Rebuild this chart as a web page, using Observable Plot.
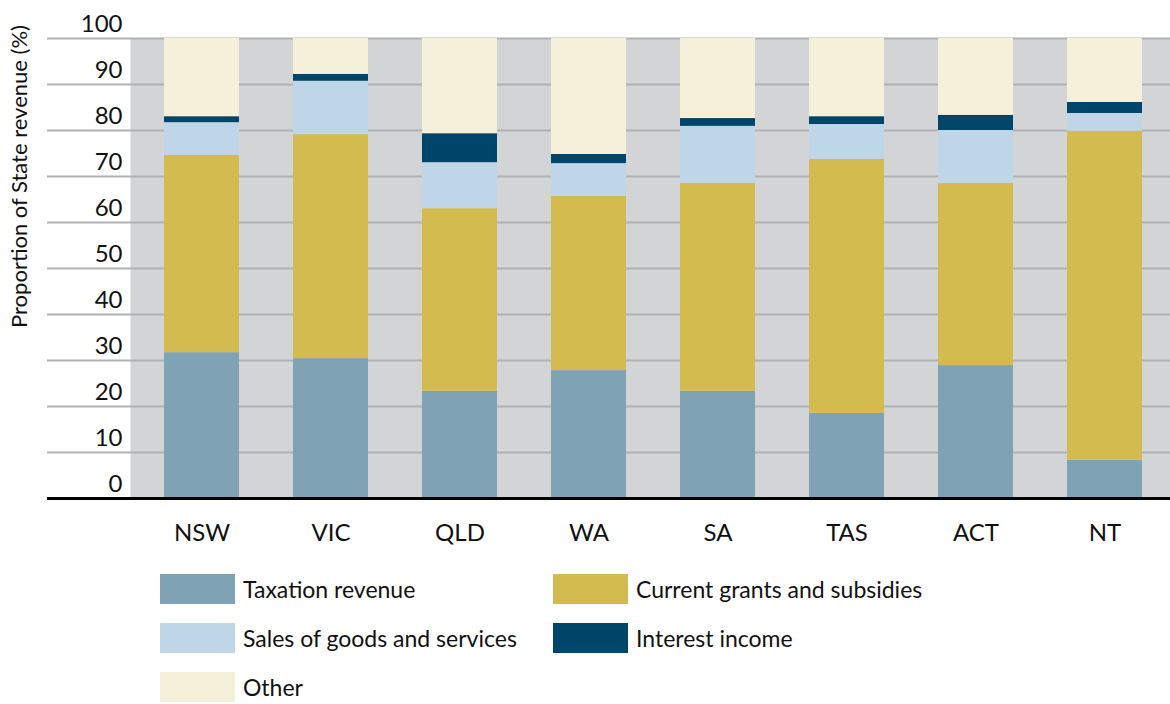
<!DOCTYPE html>
<html>
<head>
<meta charset="utf-8">
<script src="https://cdn.jsdelivr.net/npm/d3@7"></script>
<script src="https://cdn.jsdelivr.net/npm/@observablehq/plot@0.6"></script>
<style>
  body { margin: 0; background: #fff; font-family: Lato, "Open Sans", sans-serif; color: #111; overflow: hidden; }
  #chart svg { display: block; }
  .legend { display: grid; grid-template-columns: 393px 420px; margin-left: 160px; margin-top: 6px; row-gap: 19px; }
  .item { display: flex; align-items: center; font-size: 23px; line-height: 1; height: 30px; }
  .sw { width: 75px; height: 30px; margin-right: 8px; flex: none; }
</style>
</head>
<body>
<div id="chart"></div>
<div class="legend" id="legend"></div>
<script>
const states = ["NSW", "VIC", "QLD", "WA", "SA", "TAS", "ACT", "NT"];
const seriesNames = ["Taxation revenue", "Current grants and subsidies", "Sales of goods and services", "Interest income", "Other"];
const colors = ["#7fa3b5", "#d4bb50", "#bfd5e8", "#00456a", "#f5f0da"];
const taxation = [31.7, 30.4, 23.3, 27.8, 23.3, 18.5, 28.9, 8.3];
const grants   = [42.9, 48.7, 39.7, 37.9, 45.2, 55.2, 39.6, 71.5];
const sales    = [7.1, 11.6, 10.0, 7.1, 12.4, 7.6, 11.5, 3.9];
const interest = [1.3, 1.5, 6.3, 2.0, 1.7, 1.7, 3.3, 2.4];
const other    = [17.0, 7.8, 20.7, 25.2, 17.4, 17.0, 16.7, 13.9];
const yTicks = [0, 10, 20, 30, 40, 50, 60, 70, 80, 90, 100];
const yLabel = "Proportion of State revenue (%)";

const seriesValues = [taxation, grants, sales, interest, other];
const data = [];
seriesNames.forEach((s, i) => states.forEach((st, j) => data.push({state: st, series: s, value: seriesValues[i][j]})));

const gridColor = "#b1b1b3";
const plot = Plot.plot({
  width: 1170,
  height: 568,
  marginLeft: 130,
  marginRight: 0,
  marginTop: 38,
  marginBottom: 70,
  style: {fontFamily: "Lato, 'Open Sans', sans-serif", color: "#111", background: "transparent"},
  x: {domain: states, paddingInner: 0.415, paddingOuter: 0.22, align: 0.56, label: null},
  y: {domain: [0, 100], label: null},
  color: {domain: seriesNames, range: colors},
  marks: [
    Plot.frame({fill: "#d3d4d6", stroke: null}),
    Plot.gridY(yTicks, {stroke: gridColor, strokeOpacity: 1, strokeWidth: 2}),
    Plot.axisY({ticks: yTicks, tickSize: 83, tickFormat: () => "", stroke: gridColor, strokeWidth: 2, strokeOpacity: 1, label: null}),
    Plot.axisY({ticks: yTicks, tickSize: 0, tickPadding: 8, dy: -14, fontSize: 24, label: null}),
    Plot.barY(data, {x: "state", y: "value", fill: "series"}),
    Plot.ruleY([0], {stroke: "#000", strokeWidth: 3}),
    Plot.axisY({ticks: [0], tickSize: 83, tickFormat: () => "", stroke: "#000", strokeWidth: 3, label: null}),
    Plot.axisX({tickSize: 0, tickPadding: 25, fontSize: 24, label: null}),
    Plot.text([yLabel], {frameAnchor: "left", dx: -111, dy: -92, rotate: -90, textAnchor: "middle", fontSize: 22})
  ]
});
document.getElementById("chart").appendChild(plot);

const legend = document.getElementById("legend");
seriesNames.forEach((s, i) => {
  const item = document.createElement("div");
  item.className = "item";
  const sw = document.createElement("span");
  sw.className = "sw";
  sw.style.background = colors[i];
  item.appendChild(sw);
  item.appendChild(document.createTextNode(s));
  legend.appendChild(item);
});
</script>
</body>
</html>
